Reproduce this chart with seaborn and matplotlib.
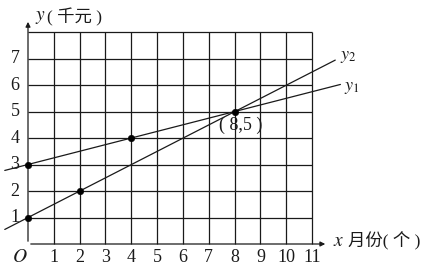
import matplotlib
matplotlib.use("Agg")
import matplotlib.pyplot as plt
import seaborn as sns
import pandas as pd

# ---- data ----
x_ticks = [1, 2, 3, 4, 5, 6, 7, 8, 9, 10, 11]
y_ticks = [1, 2, 3, 4, 5, 6, 7]
grid_x = list(range(0, 12))
grid_y = list(range(0, 9))
y1_x = [-0.9, 12.1]
y1_y = [2.78, 6.03]
y2_x = [-0.9, 11.9]
y2_y = [0.55, 6.95]
pts_x = [0, 2, 0, 4, 8]
pts_y = [1, 2, 3, 4, 5]

sns.set_style("white")
plt.rcParams["font.family"] = ["Liberation Serif", "Noto Sans CJK SC"]
plt.rcParams["mathtext.fontset"] = "stix"

fig = plt.figure(figsize=(4.26, 2.71), dpi=100)
ax = fig.add_axes([0, 0, 1, 1])
sx, sy = 25.82, 26.46
ax.set_xlim(-28 / sx, (426 - 28) / sx)
ax.set_ylim((244 - 271) / sy, 244 / sy)
ax.axis("off")

ink = "#1a1a1a"
ax.vlines(grid_x[1:], grid_y[0], grid_y[-1], color=ink, lw=0.9)
ax.hlines(grid_y[1:], grid_x[0], grid_x[-1], color=ink, lw=0.9)

# axes with arrows
ax.annotate("", xy=(11.62, 0), xytext=(0, 0),
            arrowprops=dict(arrowstyle="-|>", color=ink, lw=0.9, mutation_scale=7))
ax.annotate("", xy=(0, 8.5), xytext=(0, 0),
            arrowprops=dict(arrowstyle="-|>", color=ink, lw=0.9, mutation_scale=7))

df1 = pd.DataFrame({"x": y1_x, "y": y1_y})
df2 = pd.DataFrame({"x": y2_x, "y": y2_y})
sns.lineplot(data=df1, x="x", y="y", ax=ax, color=ink, lw=0.9)
sns.lineplot(data=df2, x="x", y="y", ax=ax, color=ink, lw=0.9)
sns.scatterplot(x=pts_x, y=pts_y, ax=ax, color="black", s=22, edgecolor="black", zorder=5)

fs = 13
for t in x_ticks:
    ax.text(t, -0.5, str(t), ha="center", va="center", fontsize=fs, color=ink)
for t in y_ticks:
    ax.text(-0.5, t, str(t), ha="center", va="center", fontsize=fs, color=ink)
ax.text(-0.3, -0.5, "$O$", ha="center", va="center", fontsize=fs + 1, color=ink)

ax.text(8.25, 4.5, "( 8,5 )", ha="center", va="center", fontsize=fs, color=ink)
ax.text(12.1, 7.1, "$y_2$", ha="left", va="center", fontsize=fs, color=ink)
ax.text(12.25, 5.9, "$y_1$", ha="left", va="center", fontsize=fs, color=ink)

ax.text(0.28, 8.57, "$y$", ha="left", va="center", fontsize=fs + 1, color=ink)
ax.text(0.72, 8.57, "( 千元 )", ha="left", va="center", fontsize=12.5, color=ink)
ax.text(11.8, 0.1, "$x$", ha="left", va="center", fontsize=fs + 1, color=ink)
ax.text(12.38, 0.1, "月份( 个 )", ha="left", va="center", fontsize=12.5, color=ink)

fig.savefig("out.png", dpi=100)
